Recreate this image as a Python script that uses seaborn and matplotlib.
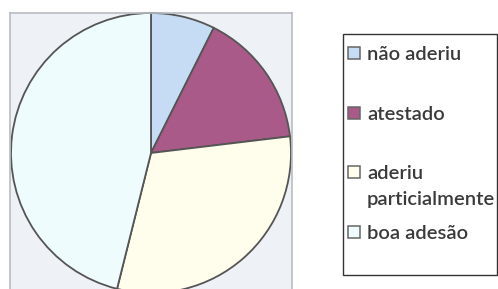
import matplotlib
matplotlib.use('Agg')
import matplotlib.pyplot as plt
from matplotlib.patches import Rectangle
import seaborn as sns

# Data (share of each group, %)
labels = ['não aderiu', 'atestado', 'aderiu\nparticialmente', 'boa adesão']
values = [7.4, 15.7, 30.8, 46.1]
colors = ['#c6dbf4', '#aa5a88', '#fffdeb', '#eefcfe']

sns.set_theme(style='white')
plt.rcParams['font.family'] = ['Lato', 'DejaVu Sans']

fig = plt.figure(figsize=(4.98, 2.89), dpi=100)
W, H = 498, 289


def px(x, y):
    # pixel coords (from top-left) -> figure fraction
    return x / W, 1 - y / H


# plot area box (pixels): x 10..292, y 13..295 from top
ax = fig.add_axes([10 / W, (H - 295) / H, 282 / W, 282 / H])
wedges, _ = ax.pie(
    values,
    colors=colors,
    startangle=90,
    counterclock=False,
    radius=1,
    wedgeprops={'linewidth': 1.3, 'edgecolor': '#555555'},
)
ax.set_frame_on(True)
ax.set_aspect('auto')
ax.set_xlim(-141 / 140, 141 / 140)
ax.set_ylim(-142 / 140, 140 / 140)
ax.set_facecolor('#eef2f7')
for s in ax.spines.values():
    s.set_color('#b8bcc2')
    s.set_linewidth(1.2)

# legend: box plus one row every ~60 px, wrapped label hangs below
fig.patches.append(Rectangle(px(343, 275), 154 / W, 241 / H,
                             transform=fig.transFigure, facecolor='white',
                             edgecolor='#333333', linewidth=1.0, zorder=0))
for i, (lab, w) in enumerate(zip(labels, wedges)):
    base = 60 + 59.6 * i
    fig.patches.append(Rectangle(px(347.5, base - 1), 12 / W, 12 / H,
                                 transform=fig.transFigure,
                                 facecolor=w.get_facecolor(),
                                 edgecolor='#666666', linewidth=1.1, zorder=1))
    for j, line in enumerate(lab.split('\n')):
        fig.text(*px(367, base + 26 * j), line, ha='left', va='baseline',
                 fontsize=14.5, fontweight='semibold', color='#3a3a3a')

fig.savefig('out.png', dpi=100, facecolor='white')
